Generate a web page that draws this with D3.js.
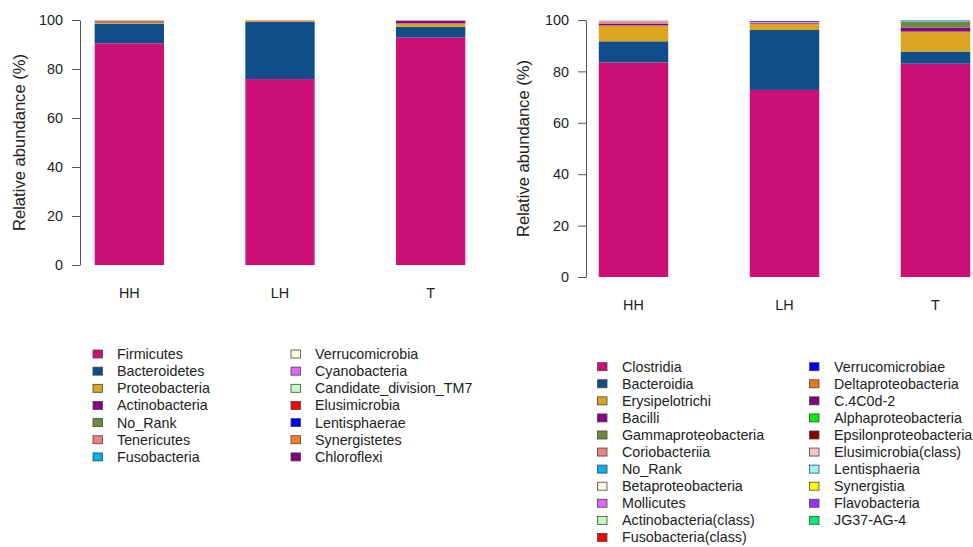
<!DOCTYPE html>
<html>
<head>
<meta charset="utf-8">
<script src="https://cdn.jsdelivr.net/npm/d3@7"></script>
<style>
  html, body { margin: 0; padding: 0; background: #fff; }
  svg { display: block; font-family: "Liberation Sans", Arial, Helvetica, sans-serif; }
</style>
</head>
<body>
<svg id="chart" width="973" height="547"></svg>
<script>
// Samples shown on both panels
const samples = ["HH", "LH", "T"];
const yTicks = [0, 20, 40, 60, 80, 100];

// Phylum level (left panel), stacked bottom to top in this order
const phylumNames = ["Firmicutes", "Bacteroidetes", "Proteobacteria", "Actinobacteria", "No_Rank",
  "Tenericutes", "Fusobacteria", "Verrucomicrobia", "Cyanobacteria", "Candidate_division_TM7",
  "Elusimicrobia", "Lentisphaerae", "Synergistetes", "Chloroflexi"];
const phylumColors = ["#CD1076", "#104E8B", "#DAA520", "#8B008B", "#6E8B3D",
  "#F08080", "#00B2EE", "#FFF8DC", "#E066FF", "#C1FFC1",
  "#FF0000", "#0000FF", "#FF7F24", "#800080"];
const phylumHH = [90.5, 7.9, 0.6, 0.4, 0.2, 0.2, 0.05, 0.05, 0.03, 0.02, 0.01, 0.01, 0.01, 0.01];
const phylumLH = [75.9, 23.3, 0.4, 0.1, 0.05, 0.15, 0.02, 0.02, 0.05, 0.01, 0.0, 0.0, 0.0, 0.0];
const phylumT  = [92.9, 4.3, 1.4, 1.0, 0.2, 0.1, 0.02, 0.02, 0.02, 0.01, 0.0, 0.0, 0.0, 0.0];

// Class level (right panel)
const classNames = ["Clostridia", "Bacteroidia", "Erysipelotrichi", "Bacilli", "Gammaproteobacteria",
  "Coriobacteriia", "No_Rank", "Betaproteobacteria", "Mollicutes", "Actinobacteria(class)",
  "Fusobacteria(class)", "Verrucomicrobiae", "Deltaproteobacteria", "C.4C0d-2", "Alphaproteobacteria",
  "Epsilonproteobacteria", "Elusimicrobia(class)", "Lentisphaeria", "Synergistia", "Flavobacteria", "JG37-AG-4"];
const classColors = ["#CD1076", "#104E8B", "#DAA520", "#8B008B", "#6E8B3D",
  "#F08080", "#00B2EE", "#FFF8DC", "#E066FF", "#C1FFC1",
  "#FF0000", "#0000FF", "#EE7621", "#800080", "#00EE00",
  "#8B0000", "#FFC0CB", "#98F5FF", "#FFFF00", "#9B30FF", "#00EE76"];
const classHH = [83.5, 8.2, 6.2, 0.6, 0.2, 0.7, 0.1, 0.05, 0.1, 0.05, 0.02, 0.02, 0.02, 0.01, 0.01, 0.01, 0.01, 0.01, 0.0, 0.0, 0.0];
const classLH = [72.8, 23.3, 2.5, 0.3, 0.1, 0.1, 0.05, 0.02, 0.05, 0.02, 0.01, 0.3, 0.01, 0.01, 0.0, 0.0, 0.0, 0.05, 0.0, 0.0, 0.0];
const classT  = [83.0, 4.7, 7.8, 1.5, 2.3, 0.2, 0.4, 0.02, 0.02, 0.01, 0.01, 0.01, 0.01, 0.0, 0.0, 0.0, 0.0, 0.0, 0.0, 0.0, 0.0];

const svg = d3.select("#chart");

function drawPanel(cfg) {
  const g = svg.append("g");
  const rows = samples.map((s, i) => {
    const row = { sample: s };
    cfg.names.forEach((n, k) => { row[n] = cfg.values[i][k]; });
    return row;
  });
  const stack = d3.stack().keys(cfg.names)(rows);

  const x = d3.scaleBand().domain(samples).range(cfg.xRange)
    .paddingInner(0.54).paddingOuter(0.27);
  const y = d3.scaleLinear().domain([0, 100]).range(cfg.yRange);
  const color = d3.scaleOrdinal().domain(cfg.names).range(cfg.colors);

  // stacked bars
  g.selectAll("g.layer").data(stack).join("g")
    .attr("class", "layer")
    .attr("fill", d => color(d.key))
    .selectAll("rect").data(d => d).join("rect")
    .attr("x", d => x(d.data.sample))
    .attr("width", x.bandwidth())
    .attr("y", d => y(d[1]))
    .attr("height", d => Math.max(0, y(d[0]) - y(d[1])));

  // y axis
  const axis = d3.axisLeft(y).tickValues(yTicks).tickSize(8).tickPadding(9).tickSizeOuter(0);
  const ag = g.append("g").attr("transform", `translate(${cfg.axisX},0)`).call(axis);
  ag.select(".domain").attr("stroke", "#555");
  ag.selectAll(".tick line").attr("stroke", "#555");
  ag.selectAll(".tick text").attr("fill", "#222").style("font-size", "14.4px");

  g.append("text")
    .attr("transform", `translate(${cfg.labelX},${(cfg.yRange[0] + cfg.yRange[1]) / 2}) rotate(-90)`)
    .attr("text-anchor", "middle")
    .attr("fill", "#222")
    .style("font-size", "16.6px")
    .text("Relative abundance (%)");

  // sample labels
  g.selectAll("text.sample").data(samples).join("text")
    .attr("class", "sample")
    .attr("x", d => x(d) + x.bandwidth() / 2)
    .attr("y", cfg.yRange[0] + 33)
    .attr("text-anchor", "middle")
    .attr("fill", "#222")
    .style("font-size", "14.4px")
    .text(d => d);

  // legend in two columns
  const perCol = cfg.perCol;
  const lg = g.selectAll("g.leg").data(cfg.names).join("g")
    .attr("class", "leg")
    .attr("transform", (d, i) => {
      const col = Math.floor(i / perCol), r = i % perCol;
      return `translate(${cfg.legX[col]},${cfg.legY + r * cfg.legStep})`;
    });
  lg.append("rect")
    .attr("x", 0).attr("y", -4).attr("width", 9.5).attr("height", 8)
    .attr("fill", d => color(d))
    .attr("stroke", "#444").attr("stroke-width", 0.8);
  lg.append("text")
    .attr("x", cfg.legTextDx).attr("y", 5)
    .attr("fill", "#222")
    .style("font-size", "14.3px")
    .text(d => d);
}

drawPanel({
  names: phylumNames, colors: phylumColors, values: [phylumHH, phylumLH, phylumT],
  xRange: [54, 506], yRange: [265, 20], axisX: 80, labelX: 25,
  perCol: 7, legX: [93, 291], legY: 354, legStep: 17.15, legTextDx: 24
});

drawPanel({
  names: classNames, colors: classColors, values: [classHH, classLH, classT],
  xRange: [558, 1011], yRange: [277, 20], axisX: 586, labelX: 529,
  perCol: 11, legX: [597.5, 809.5], legY: 366.7, legStep: 17.07, legTextDx: 24.5
});
</script>
</body>
</html>
